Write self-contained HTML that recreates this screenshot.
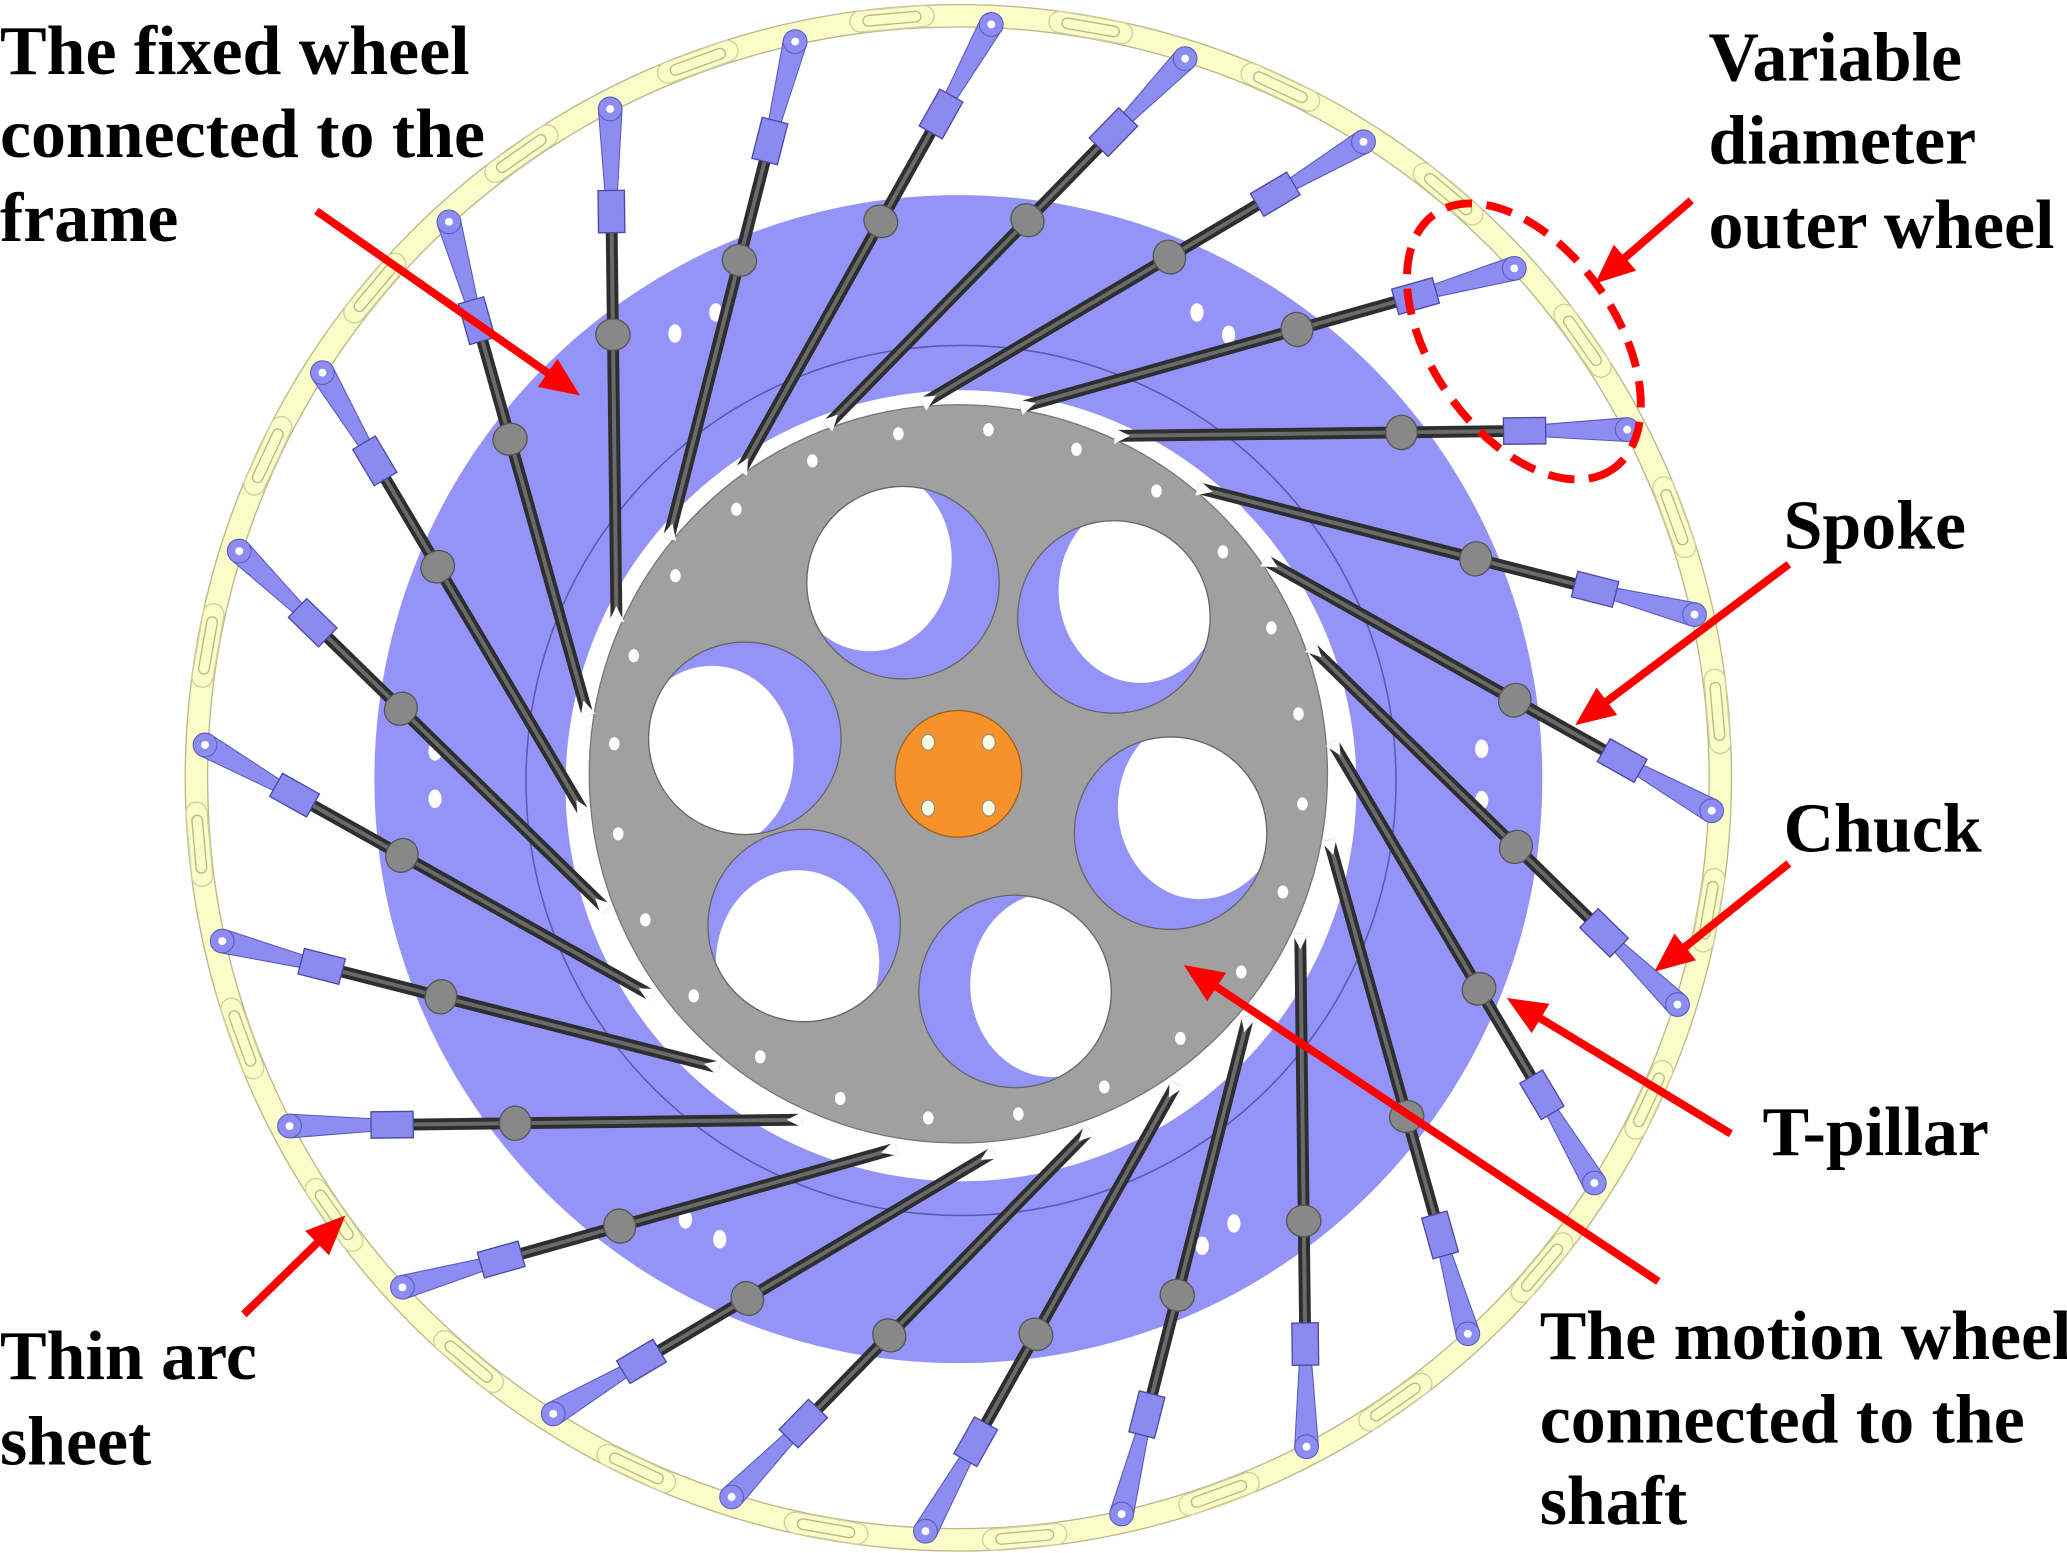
<!DOCTYPE html>
<html><head><meta charset="utf-8"><style>
html,body{margin:0;padding:0;background:#fff;}
svg{display:block;}
text{font-family:"Liberation Serif",serif;font-weight:bold;font-size:53px;fill:#000;}
</style></head><body>
<svg id="s" xmlns="http://www.w3.org/2000/svg" width="2067" height="1553" viewBox="0 0 1568 1178" preserveAspectRatio="none">
<defs>
<clipPath id="gclip"><circle cx="727" cy="587" r="280"/></clipPath>
</defs>
<circle cx="727" cy="590" r="578" fill="none" stroke="#b8b888" stroke-width="18"/>
<circle cx="727" cy="590" r="578" fill="none" stroke="#fcfcc8" stroke-width="16"/>
<g id="slots"></g>
<circle cx="727" cy="591" r="443" fill="#9494f8"/>
<circle cx="729" cy="592" r="330" fill="none" stroke="#5a5ab0" stroke-width="1.2"/>
<circle cx="729" cy="596" r="300" fill="#fff"/>
<g fill="#fff">
<ellipse cx="543" cy="237" rx="5" ry="7"/><ellipse cx="512" cy="253" rx="5" ry="7"/>
<ellipse cx="908" cy="237" rx="5" ry="7"/><ellipse cx="932" cy="254" rx="5" ry="7"/>
<ellipse cx="330" cy="570" rx="5" ry="7"/><ellipse cx="330" cy="606" rx="5" ry="7"/>
<ellipse cx="1124" cy="568" rx="5" ry="7"/><ellipse cx="1124" cy="607" rx="5" ry="7"/>
<ellipse cx="546" cy="940" rx="5" ry="7"/><ellipse cx="520" cy="925" rx="5" ry="7"/>
<ellipse cx="912" cy="945" rx="5" ry="7"/><ellipse cx="936" cy="928" rx="5" ry="7"/>
</g>
<circle cx="727" cy="587" r="280" fill="#a0a0a0" stroke="#777" stroke-width="1"/>
<g id="holes"></g>
<g id="dots" fill="#fff"></g>
<circle cx="727" cy="587" r="48" fill="#f7922a" stroke="#a06020" stroke-width="1"/>
<g fill="#fdfde0" stroke="#888" stroke-width="0.8">
<ellipse cx="704" cy="563" rx="5" ry="6"/><ellipse cx="750" cy="563" rx="5" ry="6"/>
<ellipse cx="704" cy="613" rx="5" ry="6"/><ellipse cx="750" cy="613" rx="5" ry="6"/>
</g>
<g id="spokes"></g>
<ellipse cx="1156" cy="259" rx="118" ry="70" transform="rotate(55 1156 259)" fill="none" stroke="#f00" stroke-width="6" stroke-dasharray="20 11"/>
<g id="arrows" stroke="#f00" stroke-width="6" fill="#f00"></g>
<text x="0" y="56">The fixed wheel</text>
<text x="0" y="119">connected to the</text>
<text x="0" y="183">frame</text>
<text x="1296" y="61">Variable</text>
<text x="1296" y="124">diameter</text>
<text x="1296" y="188">outer wheel</text>
<text x="1353" y="416">Spoke</text>
<text x="1353" y="646">Chuck</text>
<text x="1337" y="876">T-pillar</text>
<text x="1168" y="1031">The motion wheel</text>
<text x="1168" y="1094">connected to the</text>
<text x="1168" y="1156">shaft</text>
<text x="0" y="1046">Thin arc</text>
<text x="0" y="1111">sheet</text>
</svg>
<script>
var NS="http://www.w3.org/2000/svg";
function el(p,t,a){var e=document.createElementNS(NS,t);for(var k in a)e.setAttribute(k,a[k]);p.appendChild(e);return e;}
var cx=727,cy=590,R=Math.PI/180;
var sl=document.getElementById('slots');
for(var k=0;k<24;k++){var a=-27.5+15*k+7.5;var x=cx+578*Math.cos(a*R),y=cy+578*Math.sin(a*R);
el(sl,'rect',{x:x-22,y:y-4,width:44,height:8,rx:4,fill:'none',stroke:'#b8b888','stroke-width':1,transform:'rotate('+(a+90)+' '+x+' '+y+')'});
el(sl,'rect',{x:x-32,y:y-8,width:64,height:16,rx:8,fill:'none',stroke:'#d0d0a0','stroke-width':1,transform:'rotate('+(a+90)+' '+x+' '+y+')'});}
var hg=document.getElementById('holes');
var holes=[[685,442,-25,-18],[845,468,20,-20],[888,632,22,-20],[770,752,28,-5],[610,702,-5,28],[565,560,-25,15]];
holes.forEach(function(h,i){
 var cp=el(document.querySelector('defs'),'clipPath',{id:'hc'+i});el(cp,'circle',{cx:h[0],cy:h[1],r:73});
 el(hg,'circle',{cx:h[0],cy:h[1],r:73,fill:'#9494f8'});
 el(hg,'ellipse',{cx:h[0]+h[2],cy:h[1]+h[3],rx:62,ry:70,fill:'#fff','clip-path':'url(#hc'+i+')'});
 el(hg,'circle',{cx:h[0],cy:h[1],r:73,fill:'none',stroke:'#666','stroke-width':1});
});
var dg=document.getElementById('dots');
for(var k=0;k<24;k++){var a=k*15+5;el(dg,'ellipse',{cx:727+262*Math.cos(a*R),cy:587+262*Math.sin(a*R),rx:4,ry:5});}
var sg=document.getElementById('spokes');
for(var k=0;k<24;k++){
 var ph=-27.5+15*k,pi=ph-38;
 var x0=cx+285*Math.cos(pi*R),y0=cy+285*Math.sin(pi*R);
 var x1=cx+572*Math.cos(ph*R),y1=cy+572*Math.sin(ph*R);
 var dx=x1-x0,dy=y1-y0,L=Math.hypot(dx,dy),ux=dx/L,uy=dy/L,nx=-uy,ny=ux,ang=Math.atan2(dy,dx)/R;
 function P(t){return [x0+ux*L*t,y0+uy*L*t];}
 var e=P(0.80);
 el(sg,'line',{x1:x0,y1:y0,x2:e[0],y2:e[1],stroke:'#2e2e2e','stroke-width':9});
 el(sg,'line',{x1:x0,y1:y0,x2:e[0],y2:e[1],stroke:'#6a6a6a','stroke-width':3});
 el(sg,'polygon',{points:(x0-nx*6)+','+(y0-ny*6)+' '+(x0+nx*6)+','+(y0+ny*6)+' '+(x0+ux*12)+','+(y0+uy*12),fill:'#fff'});
 var p=P(0.56);
 el(sg,'ellipse',{cx:p[0],cy:p[1],rx:12,ry:13,fill:'#888',stroke:'#555','stroke-width':1,transform:'rotate('+ang+' '+p[0]+' '+p[1]+')'});
 var a1=P(0.81),a2=[x1,y1];
 el(sg,'polygon',{points:(a1[0]+nx*4)+','+(a1[1]+ny*4)+' '+(a2[0]+nx*9)+','+(a2[1]+ny*9)+' '+(a2[0]-nx*9)+','+(a2[1]-ny*9)+' '+(a1[0]-nx*4)+','+(a1[1]-ny*4),fill:'#8c8cf2',stroke:'#5a5ab8','stroke-width':0.8});
 el(sg,'circle',{cx:x1,cy:y1,r:9,fill:'#8c8cf2',stroke:'#5a5ab8','stroke-width':0.8});
 el(sg,'circle',{cx:x1,cy:y1,r:3,fill:'#fff'});
 var c=P(0.80);
 el(sg,'rect',{x:c[0]-16,y:c[1]-10,width:32,height:20,fill:'#8a8af0',stroke:'#4a4aa0','stroke-width':1,transform:'rotate('+ang+' '+c[0]+' '+c[1]+')'});
}
var ag=document.getElementById('arrows');
[[240,160,440,300],[1283,152,1210,215],[1357,428,1195,550],[1357,655,1255,737],[1313,860,1143,757],[1258,972,898,732],[185,997,262,922]].forEach(function(a){
 var dx=a[2]-a[0],dy=a[3]-a[1],L=Math.hypot(dx,dy),ux=dx/L,uy=dy/L,nx=-uy,ny=ux,h=30,w=13;
 var bx=a[2]-ux*h,by=a[3]-uy*h;
 el(ag,'line',{x1:a[0],y1:a[1],x2:bx+ux*2,y2:by+uy*2});
 el(ag,'polygon',{points:a[2]+','+a[3]+' '+(bx+nx*w)+','+(by+ny*w)+' '+(bx-nx*w)+','+(by-ny*w),stroke:'none'});
});
</script>
</body></html>
